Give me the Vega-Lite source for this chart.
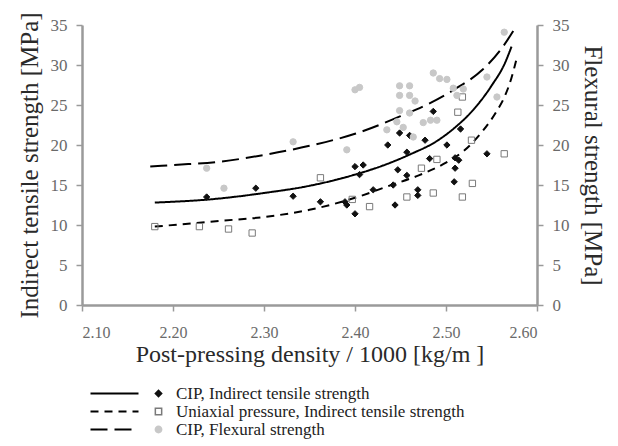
{
  "$schema": "https://vega.github.io/schema/vega-lite/v6.json",
  "width": 455,
  "height": 280,
  "autosize": {"type": "none"},
  "padding": {"left": 82, "top": 25, "right": 81, "bottom": 141},
  "background": "white",
  "config": {
    "view": {"stroke": null},
    "font": "Liberation Serif",
    "axis": {
      "grid": false,
      "domainColor": "#9a9a9a",
      "domainWidth": 2.5,
      "tickColor": "#9a9a9a",
      "tickWidth": 1.5,
      "tickSize": 6,
      "labelColor": "#6a6a6a",
      "labelFont": "Liberation Serif",
      "labelFontSize": 17,
      "titleFont": "Liberation Serif",
      "titleFontSize": 25,
      "titleFontWeight": "normal",
      "titleColor": "#2a2a2a"
    },
    "legend": {
      "labelFont": "Liberation Serif",
      "labelFontSize": 17,
      "labelColor": "#222222",
      "labelLimit": 0
    }
  },
  "datasets": {
    "curves": [
      {"curve": "A", "d": 2.18, "v": 12.8},
      {"curve": "A", "d": 2.25, "v": 13.3},
      {"curve": "A", "d": 2.30, "v": 14.0},
      {"curve": "A", "d": 2.35, "v": 14.9},
      {"curve": "A", "d": 2.40, "v": 16.3},
      {"curve": "A", "d": 2.43, "v": 17.4},
      {"curve": "A", "d": 2.46, "v": 18.8},
      {"curve": "A", "d": 2.49, "v": 20.5},
      {"curve": "A", "d": 2.51, "v": 22.2},
      {"curve": "A", "d": 2.53, "v": 24.4},
      {"curve": "A", "d": 2.55, "v": 27.4},
      {"curve": "A", "d": 2.565, "v": 30.3},
      {"curve": "A", "d": 2.572, "v": 32.3},
      {"curve": "B", "d": 2.18, "v": 9.8},
      {"curve": "B", "d": 2.25, "v": 10.5},
      {"curve": "B", "d": 2.30, "v": 11.0},
      {"curve": "B", "d": 2.35, "v": 11.9},
      {"curve": "B", "d": 2.40, "v": 13.4},
      {"curve": "B", "d": 2.44, "v": 15.0},
      {"curve": "B", "d": 2.47, "v": 16.2},
      {"curve": "B", "d": 2.50, "v": 17.8},
      {"curve": "B", "d": 2.52, "v": 19.3},
      {"curve": "B", "d": 2.54, "v": 21.7},
      {"curve": "B", "d": 2.555, "v": 24.1},
      {"curve": "B", "d": 2.565, "v": 26.2},
      {"curve": "B", "d": 2.572, "v": 28.4},
      {"curve": "B", "d": 2.578, "v": 31.0},
      {"curve": "C", "d": 2.175, "v": 17.3},
      {"curve": "C", "d": 2.20, "v": 17.5},
      {"curve": "C", "d": 2.25, "v": 17.9},
      {"curve": "C", "d": 2.30, "v": 18.75},
      {"curve": "C", "d": 2.35, "v": 19.9},
      {"curve": "C", "d": 2.40, "v": 21.4},
      {"curve": "C", "d": 2.45, "v": 23.6},
      {"curve": "C", "d": 2.48, "v": 25.1},
      {"curve": "C", "d": 2.51, "v": 27.0},
      {"curve": "C", "d": 2.54, "v": 29.4},
      {"curve": "C", "d": 2.56, "v": 31.9},
      {"curve": "C", "d": 2.578, "v": 35.0}
    ],
    "points": [
      {"s": "CIP, Indirect tensile strength", "d": 2.237, "v": 13.5},
      {"s": "CIP, Indirect tensile strength", "d": 2.291, "v": 14.6},
      {"s": "CIP, Indirect tensile strength", "d": 2.332, "v": 13.6},
      {"s": "CIP, Indirect tensile strength", "d": 2.362, "v": 12.9},
      {"s": "CIP, Indirect tensile strength", "d": 2.389, "v": 12.9},
      {"s": "CIP, Indirect tensile strength", "d": 2.391, "v": 12.5},
      {"s": "CIP, Indirect tensile strength", "d": 2.400, "v": 11.4},
      {"s": "CIP, Indirect tensile strength", "d": 2.400, "v": 17.3},
      {"s": "CIP, Indirect tensile strength", "d": 2.409, "v": 17.5},
      {"s": "CIP, Indirect tensile strength", "d": 2.405, "v": 16.3},
      {"s": "CIP, Indirect tensile strength", "d": 2.420, "v": 14.4},
      {"s": "CIP, Indirect tensile strength", "d": 2.436, "v": 20.0},
      {"s": "CIP, Indirect tensile strength", "d": 2.444, "v": 12.5},
      {"s": "CIP, Indirect tensile strength", "d": 2.442, "v": 15.0},
      {"s": "CIP, Indirect tensile strength", "d": 2.447, "v": 16.9},
      {"s": "CIP, Indirect tensile strength", "d": 2.449, "v": 21.5},
      {"s": "CIP, Indirect tensile strength", "d": 2.460, "v": 21.2},
      {"s": "CIP, Indirect tensile strength", "d": 2.457, "v": 19.1},
      {"s": "CIP, Indirect tensile strength", "d": 2.457, "v": 16.2},
      {"s": "CIP, Indirect tensile strength", "d": 2.469, "v": 14.4},
      {"s": "CIP, Indirect tensile strength", "d": 2.469, "v": 13.7},
      {"s": "CIP, Indirect tensile strength", "d": 2.477, "v": 20.6},
      {"s": "CIP, Indirect tensile strength", "d": 2.482, "v": 18.3},
      {"s": "CIP, Indirect tensile strength", "d": 2.486, "v": 24.2},
      {"s": "CIP, Indirect tensile strength", "d": 2.501, "v": 20.0},
      {"s": "CIP, Indirect tensile strength", "d": 2.510, "v": 18.4},
      {"s": "CIP, Indirect tensile strength", "d": 2.514, "v": 18.1},
      {"s": "CIP, Indirect tensile strength", "d": 2.510, "v": 17.1},
      {"s": "CIP, Indirect tensile strength", "d": 2.509, "v": 15.4},
      {"s": "CIP, Indirect tensile strength", "d": 2.516, "v": 22.0},
      {"s": "CIP, Indirect tensile strength", "d": 2.545, "v": 18.9},
      {"s": "Uniaxial pressure, Indirect tensile strength", "d": 2.180, "v": 9.8},
      {"s": "Uniaxial pressure, Indirect tensile strength", "d": 2.229, "v": 9.8},
      {"s": "Uniaxial pressure, Indirect tensile strength", "d": 2.261, "v": 9.5},
      {"s": "Uniaxial pressure, Indirect tensile strength", "d": 2.287, "v": 9.0},
      {"s": "Uniaxial pressure, Indirect tensile strength", "d": 2.362, "v": 15.9},
      {"s": "Uniaxial pressure, Indirect tensile strength", "d": 2.397, "v": 13.2},
      {"s": "Uniaxial pressure, Indirect tensile strength", "d": 2.416, "v": 12.3},
      {"s": "Uniaxial pressure, Indirect tensile strength", "d": 2.457, "v": 13.5},
      {"s": "Uniaxial pressure, Indirect tensile strength", "d": 2.486, "v": 14.0},
      {"s": "Uniaxial pressure, Indirect tensile strength", "d": 2.518, "v": 13.5},
      {"s": "Uniaxial pressure, Indirect tensile strength", "d": 2.529, "v": 15.2},
      {"s": "Uniaxial pressure, Indirect tensile strength", "d": 2.564, "v": 18.9},
      {"s": "Uniaxial pressure, Indirect tensile strength", "d": 2.513, "v": 24.1},
      {"s": "Uniaxial pressure, Indirect tensile strength", "d": 2.518, "v": 26.0},
      {"s": "Uniaxial pressure, Indirect tensile strength", "d": 2.490, "v": 18.2},
      {"s": "Uniaxial pressure, Indirect tensile strength", "d": 2.473, "v": 17.1},
      {"s": "Uniaxial pressure, Indirect tensile strength", "d": 2.528, "v": 20.6},
      {"s": "CIP, Flexural strength", "d": 2.237, "v": 17.1},
      {"s": "CIP, Flexural strength", "d": 2.256, "v": 14.6},
      {"s": "CIP, Flexural strength", "d": 2.332, "v": 20.4},
      {"s": "CIP, Flexural strength", "d": 2.391, "v": 19.4},
      {"s": "CIP, Flexural strength", "d": 2.400, "v": 26.9},
      {"s": "CIP, Flexural strength", "d": 2.405, "v": 27.2},
      {"s": "CIP, Flexural strength", "d": 2.449, "v": 27.4},
      {"s": "CIP, Flexural strength", "d": 2.460, "v": 27.4},
      {"s": "CIP, Flexural strength", "d": 2.449, "v": 26.2},
      {"s": "CIP, Flexural strength", "d": 2.460, "v": 26.2},
      {"s": "CIP, Flexural strength", "d": 2.466, "v": 25.5},
      {"s": "CIP, Flexural strength", "d": 2.486, "v": 29.0},
      {"s": "CIP, Flexural strength", "d": 2.493, "v": 28.3},
      {"s": "CIP, Flexural strength", "d": 2.501, "v": 28.2},
      {"s": "CIP, Flexural strength", "d": 2.508, "v": 27.1},
      {"s": "CIP, Flexural strength", "d": 2.519, "v": 27.0},
      {"s": "CIP, Flexural strength", "d": 2.512, "v": 26.2},
      {"s": "CIP, Flexural strength", "d": 2.449, "v": 24.3},
      {"s": "CIP, Flexural strength", "d": 2.460, "v": 24.0},
      {"s": "CIP, Flexural strength", "d": 2.446, "v": 22.9},
      {"s": "CIP, Flexural strength", "d": 2.453, "v": 22.2},
      {"s": "CIP, Flexural strength", "d": 2.475, "v": 22.8},
      {"s": "CIP, Flexural strength", "d": 2.483, "v": 23.1},
      {"s": "CIP, Flexural strength", "d": 2.490, "v": 23.1},
      {"s": "CIP, Flexural strength", "d": 2.435, "v": 21.9},
      {"s": "CIP, Flexural strength", "d": 2.464, "v": 21.0},
      {"s": "CIP, Flexural strength", "d": 2.545, "v": 28.5},
      {"s": "CIP, Flexural strength", "d": 2.556, "v": 26.0},
      {"s": "CIP, Flexural strength", "d": 2.564, "v": 34.1}
    ]
  },
  "encoding": {
    "x": {
      "field": "d",
      "type": "quantitative",
      "scale": {"domain": [2.1, 2.6], "nice": false, "zero": false},
      "axis": {
        "title": "Post-pressing density / 1000  [kg/m ]",
        "values": [2.1, 2.2, 2.3, 2.4, 2.5, 2.6],
        "format": ".2f",
        "labelFontSize": 16,
        "labelPadding": 13,
        "titleFontSize": 24,
        "titlePadding": 2
      }
    }
  },
  "layer": [
    {
      "data": {"name": "curves"},
      "mark": {"type": "line", "interpolate": "monotone", "strokeWidth": 2, "color": "black"},
      "encoding": {
        "y": {
          "field": "v",
          "type": "quantitative",
          "scale": {"domain": [0, 35], "nice": false},
          "axis": {
            "orient": "left",
            "title": "Indirect tensile strength [MPa]",
            "values": [0, 5, 10, 15, 20, 25, 30, 35],
            "labelPadding": 9,
            "titlePadding": 8
          }
        },
        "strokeDash": {
          "field": "curve",
          "type": "nominal",
          "scale": {"domain": ["A", "B", "C"], "range": [[1, 0], [8, 6], [17, 7]]},
          "legend": {
            "title": null,
            "orient": "none",
            "legendX": 24,
            "legendY": 360,
            "padding": 0,
            "rowPadding": 0,
            "symbolType": "M-4,0H4",
            "symbolSize": 144,
            "symbolStrokeWidth": 2,
            "symbolStrokeColor": "black",
            "labelExpr": "''"
          }
        }
      }
    },
    {
      "data": {"name": "points"},
      "mark": {"type": "point", "filled": false, "strokeWidth": 1, "opacity": 1},
      "encoding": {
        "y": {
          "field": "v",
          "type": "quantitative",
          "scale": {"domain": [0, 35], "nice": false},
          "axis": {
            "orient": "right",
            "title": "Flexural strength [MPa]",
            "values": [0, 5, 10, 15, 20, 25, 30, 35],
            "labelPadding": 9,
            "titlePadding": 10
          }
        },
        "shape": {
          "field": "s",
          "type": "nominal",
          "scale": {
            "domain": ["CIP, Indirect tensile strength", "Uniaxial pressure, Indirect tensile strength", "CIP, Flexural strength"],
            "range": ["diamond", "square", "circle"]
          },
          "legend": {
            "title": null,
            "orient": "none",
            "legendX": 68,
            "legendY": 360,
            "padding": 0,
            "rowPadding": 0,
            "symbolSize": 40,
            "labelOffset": 9
          }
        },
        "fill": {
          "field": "s",
          "type": "nominal",
          "scale": {
            "domain": ["CIP, Indirect tensile strength", "Uniaxial pressure, Indirect tensile strength", "CIP, Flexural strength"],
            "range": ["#111111", "transparent", "#c8c8c8"]
          }
        },
        "stroke": {
          "field": "s",
          "type": "nominal",
          "scale": {
            "domain": ["CIP, Indirect tensile strength", "Uniaxial pressure, Indirect tensile strength", "CIP, Flexural strength"],
            "range": ["#111111", "#7a7a7a", "#c8c8c8"]
          }
        },
        "size": {"value": 40}
      }
    }
  ],
  "resolve": {"axis": {"y": "independent"}}
}
